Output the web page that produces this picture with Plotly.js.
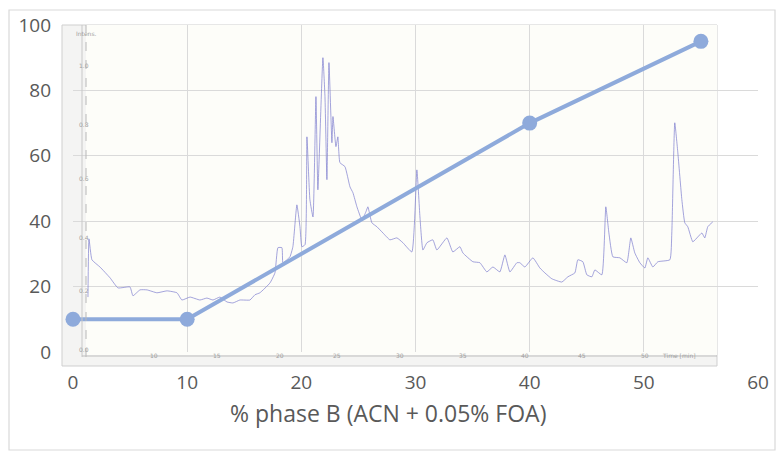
<!DOCTYPE html>
<html>
<head>
<meta charset="utf-8">
<script src="https://cdn.plot.ly/plotly-3.0.1.min.js"></script>
<style>html,body{margin:0;padding:0;background:#fff;}#chart{width:782px;height:456px;}</style>
</head>
<body>
<div id="chart"></div>
<script>
// Gradient programme (% phase B)
const gradX = [0, 10, 40, 55];
const gradY = [10, 10, 70, 95];

// Background chromatogram trace in chart units
const chromX = [1.31,1.40,1.66,2.36,3.24,3.94,4.99,5.25,5.87,6.48,7.36,8.23,9.11,9.54,10.25,11.12,11.73,12.26,12.87,13.49,14.01,14.62,15.50,15.94,16.37,17.25,17.69,17.95,18.30,18.39,19.00,19.26,19.61,19.88,20.05,20.32,20.49,20.75,21.02,21.28,21.45,21.89,22.07,22.24,22.42,22.68,22.77,23.03,23.20,23.38,23.82,24.26,24.52,24.87,25.31,25.66,25.83,26.18,26.62,27.15,27.76,28.37,28.90,29.68,30.12,30.39,30.65,31.00,31.52,31.87,32.75,33.27,33.89,34.15,35.03,35.64,36.25,36.78,37.39,37.83,38.27,38.88,39.14,39.58,40.28,40.89,41.33,41.94,42.82,43.35,43.96,44.22,44.66,45.01,45.45,45.71,46.32,46.67,46.94,47.29,47.90,48.51,48.86,49.21,49.65,50.09,50.35,50.79,51.23,52.28,52.45,52.71,52.98,53.33,53.59,53.85,54.29,54.73,55.08,55.34,55.60,56.04];
const chromY = [16.8,34.6,28.2,26.0,22.7,19.6,19.9,17.2,19.0,19.0,18.1,18.7,18.1,15.9,16.8,15.9,16.5,15.9,16.8,15.3,15.0,15.9,15.9,17.5,18.1,21.1,24.2,31.9,31.9,27.3,29.1,32.2,45.0,38.3,32.2,32.8,65.8,46.6,41.3,78.1,49.6,90.0,78.1,52.7,88.5,64.0,72.0,62.8,65.8,57.9,56.7,50.5,48.7,44.4,40.4,42.9,44.4,39.5,38.3,36.4,34.3,34.9,33.4,30.6,55.7,41.3,31.2,33.4,34.3,31.2,34.9,30.6,32.2,30.3,27.6,27.3,24.5,26.0,24.5,29.7,24.5,27.3,27.3,26.0,28.8,25.7,24.2,22.4,21.4,23.0,24.2,28.2,27.6,23.6,23.0,25.1,23.6,44.4,36.4,29.1,28.8,27.3,34.9,30.3,27.3,25.7,28.8,26.0,27.6,28.2,36.4,70.1,60.9,46.6,39.5,38.3,33.7,35.2,36.4,34.9,38.3,39.8];

// Inset chromatogram tick labels
const insetTimeTicks = ["10","15","20","25","30","35","40","45","50"];
const insetIntensTicks = ["1.0","0.8","0.6","0.4","0.2","0.0"];

const xTickVals = [0,10,20,30,40,50,60];
const yTickVals = [0,20,40,60,80,100];
const xTitle = "% phase B (ACN + 0.05% FOA)";

// pixel -> paper helpers (plot area: x 73..758, y 25..352)
const L = 73, R = 758, T = 25, B = 352;
const px = v => (v - L) / (R - L);
const py = v => (B - v) / (B - T);

const shapes = [
  // outer frame
  {type:'rect', xref:'paper', yref:'paper', x0:px(9), x1:px(775), y0:py(450), y1:py(10),
   line:{color:'#d9d9d9', width:1.2}, fillcolor:'rgba(0,0,0,0)', layer:'below'},
  // inset image background
  {type:'rect', xref:'paper', yref:'paper', x0:px(62), x1:px(717), y0:py(366), y1:py(25),
   line:{color:'#cfcfcf', width:1}, fillcolor:'#f4f4f3', layer:'below'},
  {type:'rect', xref:'paper', yref:'paper', x0:px(86), x1:px(717), y0:py(355), y1:py(25),
   line:{width:0}, fillcolor:'#fdfdf9', layer:'below'},
  // inset axes
  {type:'line', xref:'paper', yref:'paper', x0:px(82), x1:px(82), y0:py(357), y1:py(25),
   line:{color:'#c8c8c8', width:1}},
  {type:'line', xref:'paper', yref:'paper', x0:px(86), x1:px(86), y0:py(357), y1:py(25),
   line:{color:'#b8b8b8', width:1, dash:'dash'}},
  {type:'line', xref:'paper', yref:'paper', x0:px(82), x1:px(717), y0:py(356), y1:py(356),
   line:{color:'#bdbdbd', width:1}}
];

const insetFont = {size:6, color:'#a0a0a0', family:'DejaVu Sans'};
const annotations = [];
insetTimeTicks.forEach((t, i) => {
  annotations.push({xref:'paper', yref:'paper', x:px(148 + i*62.9), y:py(361), text:t,
    showarrow:false, font:insetFont});
});
annotations.push({xref:'paper', yref:'paper', x:px(698), y:py(361), text:'Time [min]',
  showarrow:false, font:insetFont});
insetIntensTicks.forEach((t, i) => {
  annotations.push({xref:'paper', yref:'paper', x:px(77), y:py(60 + i*59), text:t,
    showarrow:false, font:insetFont});
});
annotations.push({xref:'paper', yref:'paper', x:px(74), y:py(28), text:'Intens.',
  showarrow:false, font:insetFont});
// x-axis title (centred on the whole chart, as in the reference)
annotations.push({xref:'paper', yref:'paper', x:px(388), y:py(413), text:xTitle,
  showarrow:false, xanchor:'center', yanchor:'middle',
  font:{size:23, color:'#595959', family:'Open Sans, Noto Sans, sans-serif'}});

const traces = [
  {x: chromX, y: chromY, type:'scatter', mode:'lines', hoverinfo:'skip',
   line:{color:'rgba(120,120,205,0.75)', width:0.9, shape:'spline', smoothing:0.4}, showlegend:false},
  {x: gradX, y: gradY, type:'scatter', mode:'lines+markers', cliponaxis:false,
   line:{color:'#8eaadb', width:4}, marker:{size:15, color:'#8eaadb'}, showlegend:false}
];

const layout = {
  width:782, height:456,
  margin:{l:L, r:782-R, t:T, b:456-B},
  paper_bgcolor:'#ffffff', plot_bgcolor:'rgba(0,0,0,0)',
  font:{family:'Open Sans, Noto Sans, sans-serif', color:'#595959'},
  xaxis:{range:[0,60], tickvals:xTickVals, showgrid:true, gridcolor:'#dadada', gridwidth:1,
    zeroline:false, showline:false, ticks:'', tickfont:{size:19, color:'#595959'},
    ticklabelstandoff:17, fixedrange:true},
  yaxis:{range:[0,100], tickvals:yTickVals, showgrid:true, gridcolor:'#dadada', gridwidth:1,
    zeroline:false, showline:false, ticks:'', tickfont:{size:19, color:'#595959'},
    ticklabelstandoff:21, fixedrange:true},
  shapes: shapes,
  annotations: annotations
};

Plotly.newPlot('chart', traces, layout, {displayModeBar:false, staticPlot:true});
</script>
</body>
</html>
